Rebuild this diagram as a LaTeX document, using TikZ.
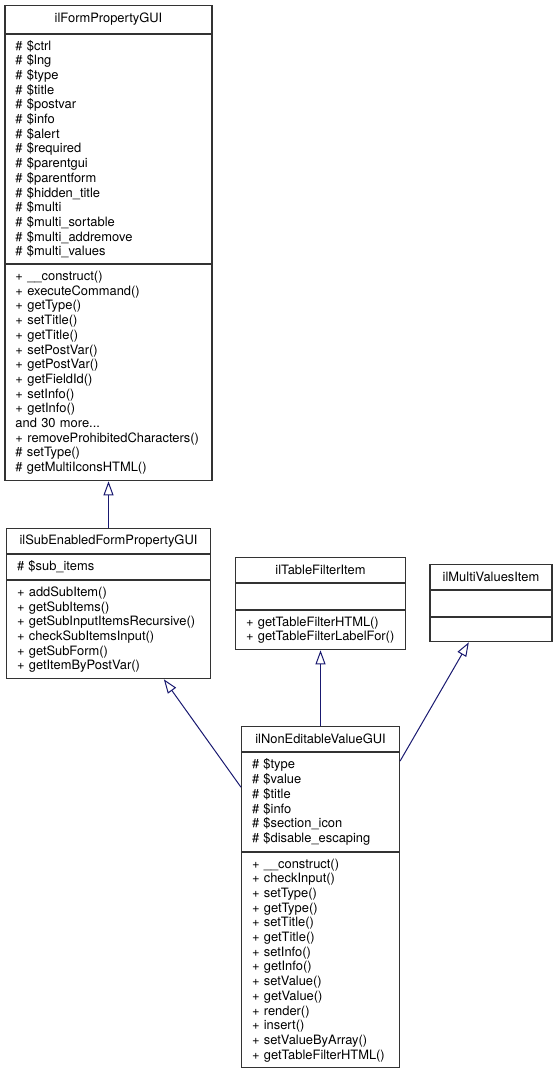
\documentclass[tikz,border=0pt]{standalone}
\usepackage{fontspec}
\setmainfont{TeX Gyre Heros}
\usepackage{xcolor}
\usetikzlibrary{arrows.meta}
\usetikzlibrary{positioning}
\usetikzlibrary{calc}
\definecolor{edgeblue}{HTML}{191970}
\definecolor{classgray}{HTML}{BFBFBF}

\begin{document}
\begin{tikzpicture}[x=1pt, y=-1pt, font=\fontsize{12.9}{14.7}\selectfont,
    classtitle/.style={draw=black!80, line width=1.1pt, fill=white,
      inner sep=0pt, anchor=north},
    classbody/.style={draw=black!80, line width=1.1pt, fill=white,
      inner xsep=10.5pt, inner ysep=0pt, align=left, anchor=north},
    inheritance/.style={draw=edgeblue, line width=1pt,
      -{Triangle[open, length=14pt, width=10pt]}}]
  \useasboundingbox (0,0) rectangle (558,1072);
  % ilFormPropertyGUI
  \node[classtitle, minimum width=207, minimum height=28] (form) at (108.5,5) {ilFormPropertyGUI};
  \node[classbody, text width=186, minimum height=229] (formvars) at (form.south)
    {\# \$ctrl\\\# \$lng\\\# \$type\\\# \$title\\\# \$postvar\\\# \$info\\\# \$alert\\
     \# \$required\\\# \$parentgui\\\# \$parentform\\\# \$hidden\_title\\\# \$multi\\
     \# \$multi\_sortable\\\# \$multi\_addremove\\\# \$multi\_values};
  \node[classbody, text width=186, minimum height=216] (formops) at (formvars.south)
    {+ \_\_construct()\\+ executeCommand()\\+ getType()\\+ setTitle()\\+ getTitle()\\
     + setPostVar()\\+ getPostVar()\\+ getFieldId()\\+ setInfo()\\+ getInfo()\\
     and 30 more...\\+~removeProhibitedCharacters()\\\# setType()\\\# getMultiIconsHTML()};
  % ilSubEnabledFormPropertyGUI
  \node[classtitle, minimum width=204, minimum height=25] (sub) at (108.5,528) {ilSubEnabledFormPropertyGUI};
  \node[classbody, text width=183, minimum height=25] (subvars) at (sub.south) {\# \$sub\_items};
  \node[classbody, text width=183, minimum height=98] (subops) at (subvars.south)
    {+ addSubItem()\\+ getSubItems()\\+~getSubInputItemsRecursive()\\
     + checkSubItemsInput()\\+ getSubForm()\\+ getItemByPostVar()};
  % ilTableFilterItem
  \node[classtitle, minimum width=170, minimum height=25] (filter) at (320.5,557) {ilTableFilterItem};
  \node[classbody, text width=149, minimum height=26] (filtervars) at (filter.south) {};
  \node[classbody, text width=149, minimum height=39] (filterops) at (filtervars.south)
    {+~getTableFilterHTML()\\+~getTableFilterLabelFor()};
  % ilMultiValuesItem
  \node[classtitle, minimum width=122, minimum height=25] (multi) at (491,564) {ilMultiValuesItem};
  \node[classbody, text width=101, minimum height=26] (multivars) at (multi.south) {};
  \node[classbody, text width=101, minimum height=24] (multiops) at (multivars.south) {};
  % ilNonEditableValueGUI
  \begin{scope}[every node/.append style={fill=classgray}]
    \node[classtitle, minimum width=158, minimum height=25] (non) at (320.5,726) {ilNonEditableValueGUI};
    \node[classbody, text width=137, minimum height=99] (nonvars) at (non.south)
      {\# \$type\\\# \$value\\\# \$title\\\# \$info\\\# \$section\_icon\\\#~\$disable\_escaping};
    \node[classbody, text width=137, minimum height=215] (nonops) at (nonvars.south)
      {+ \_\_construct()\\+ checkInput()\\+ setType()\\+ getType()\\+ setTitle()\\
       + getTitle()\\+ setInfo()\\+ getInfo()\\+ setValue()\\+ getValue()\\+ render()\\
       + insert()\\+ setValueByArray()\\+~getTableFilterHTML()};
  \end{scope}
  % inheritance
  \draw[inheritance] (sub.north) -- (formops.south);
  \draw[inheritance] (non.north) -- (filterops.south);
  \draw[inheritance] ($(nonvars.north west)!.35!(nonvars.south west)$)
    -- ($(subops.south west)!.77!(subops.south east)$);
  \draw[inheritance] ($(nonvars.north east)!.09!(nonvars.south east)$)
    -- ($(multiops.south west)!.32!(multiops.south east)$);
\end{tikzpicture}
\end{document}
